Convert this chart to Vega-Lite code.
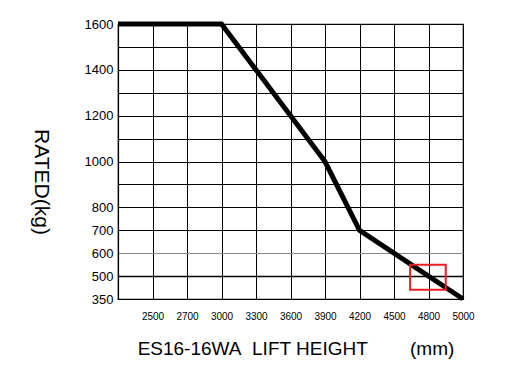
{
  "$schema": "https://vega.github.io/schema/vega-lite/v6.json",
  "width": 345,
  "height": 275,
  "autosize": "none",
  "padding": {"left": 118, "top": 24, "right": 58, "bottom": 81},
  "background": "white",
  "config": {
    "view": {"stroke": "black", "strokeWidth": 1.2},
    "axis": {
      "labelFont": "Liberation Sans",
      "titleFont": "Liberation Sans",
      "labelColor": "black",
      "titleColor": "black",
      "domainColor": "black",
      "domainWidth": 1.2,
      "gridColor": "black",
      "gridOpacity": 1,
      "gridWidth": 1,
      "ticks": false,
      "labelFlush": false,
      "labelOverlap": false,
      "titleFontWeight": "normal"
    }
  },
  "encoding": {
    "x": {
      "field": "height",
      "type": "quantitative",
      "scale": {
        "domain": [2300, 2500, 2700, 3000, 3300, 3600, 3900, 4200, 4500, 4800, 5000],
        "range": [0, 34.5, 69, 103.5, 138, 172.5, 207, 241.5, 276, 310.5, 345],
        "nice": false,
        "zero": false
      },
      "axis": {
        "values": [2500, 2700, 3000, 3300, 3600, 3900, 4200, 4500, 4800, 5000],
        "format": "d",
        "labelFontSize": 10,
        "labelPadding": 12,
        "labelBaseline": "top",
        "title": "ES16-16WA\u00a0\u00a0LIFT HEIGHT\u00a0\u00a0\u00a0\u00a0\u00a0\u00a0\u00a0\u00a0(mm)",
        "titleFontSize": 19,
        "titleX": 177.5,
        "titleY": 55.5,
        "titleAlign": "center",
        "titleBaseline": "alphabetic"
      }
    },
    "y": {
      "field": "weight",
      "type": "quantitative",
      "scale": {
        "domain": [350, 500, 1600],
        "range": [275, 252.1, 0],
        "nice": false,
        "zero": false
      },
      "axis": {
        "values": [350, 500, 600, 700, 800, 900, 1000, 1100, 1200, 1300, 1400, 1500, 1600],
        "labelExpr": "indexof([900, 1100, 1300, 1500], datum.value) >= 0 ? '' : datum.label",
        "format": "d",
        "labelFontSize": 13,
        "labelPadding": 5,
        "gridWidth": {"condition": {"test": "datum.value === 500", "value": 1.6}, "value": 1},
        "gridColor": {"condition": {"test": "datum.value === 600", "value": "#8a8a8a"}, "value": "black"},
        "title": "RATED(kg)",
        "titleFontSize": 21,
        "titleAngle": 90,
        "titleX": -77.5,
        "titleY": 157.5,
        "titleAlign": "center",
        "titleBaseline": "middle"
      }
    }
  },
  "layer": [
    {
      "data": {
        "values": [
          {"height": 2300, "weight": 1600},
          {"height": 3000, "weight": 1600},
          {"height": 3900, "weight": 1000},
          {"height": 4200, "weight": 700},
          {"height": 5000, "weight": 350}
        ]
      },
      "mark": {"type": "line", "color": "black", "strokeWidth": 5, "strokeJoin": "miter", "strokeCap": "butt"}
    },
    {
      "data": {"values": [{"height": 4640, "height_end": 4900, "weight": 550, "weight_end": 410}]},
      "mark": {"type": "rect", "filled": false, "stroke": "#ee1c24", "strokeWidth": 2},
      "encoding": {
        "x2": {"field": "height_end"},
        "y2": {"field": "weight_end"}
      }
    }
  ]
}
